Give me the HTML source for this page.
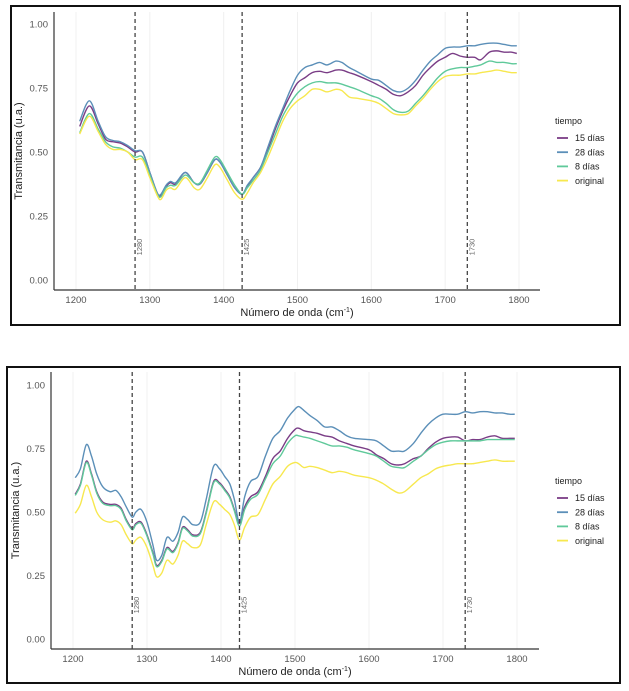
<!DOCTYPE html>
<html><head><meta charset="utf-8">
<style>
html,body{margin:0;padding:0;background:#fff;}
body{width:629px;height:691px;position:relative;overflow:hidden;font-family:"Liberation Sans",sans-serif;}
svg{position:absolute;left:0;top:0;}
</style></head>
<body>
<svg id="root" width="629" height="691" viewBox="0 0 629 691"></svg>
<script>
// ---- data: top chart ----
const seriesNames = ["15 días","28 días","8 días","original"];
const seriesColors = ["#7a3d86","#5b8fb8","#5fc99a","#f7e84f"];
const xTicks = [1200,1300,1400,1500,1600,1700,1800];
const yTicks = [0,0.25,0.5,0.75,1.0];
const yTickLabels = ["0.00","0.25","0.50","0.75","1.00"];
const markers = [1280,1425,1730];

const topX = [1205,1218,1230,1240,1250,1260,1270,1280,1290,1300,1310,1315,1322,1328,1335,1348,1360,1368,1378,1388,1395,1405,1415,1425,1432,1440,1450,1460,1470,1480,1490,1500,1510,1520,1530,1540,1552,1560,1570,1580,1600,1610,1620,1630,1640,1650,1660,1670,1680,1690,1700,1710,1720,1730,1740,1748,1760,1770,1780,1790,1797];
const top15 = [0.60,0.68,0.61,0.55,0.54,0.535,0.52,0.50,0.50,0.42,0.34,0.33,0.365,0.38,0.375,0.42,0.38,0.375,0.42,0.47,0.46,0.41,0.36,0.335,0.365,0.40,0.44,0.51,0.59,0.66,0.72,0.77,0.79,0.81,0.815,0.81,0.82,0.82,0.81,0.80,0.775,0.76,0.745,0.725,0.72,0.735,0.76,0.80,0.83,0.855,0.87,0.885,0.875,0.87,0.87,0.86,0.89,0.895,0.89,0.89,0.885];
const top28 = [0.62,0.70,0.62,0.56,0.545,0.54,0.525,0.505,0.50,0.42,0.34,0.335,0.37,0.385,0.38,0.42,0.38,0.375,0.42,0.47,0.46,0.41,0.36,0.335,0.37,0.40,0.44,0.52,0.60,0.67,0.74,0.80,0.83,0.84,0.85,0.84,0.855,0.85,0.83,0.815,0.785,0.78,0.76,0.74,0.735,0.75,0.78,0.82,0.855,0.88,0.905,0.91,0.91,0.915,0.915,0.92,0.925,0.925,0.92,0.915,0.915];
const top8 = [0.575,0.65,0.59,0.54,0.52,0.515,0.50,0.48,0.48,0.41,0.335,0.325,0.36,0.37,0.37,0.41,0.38,0.38,0.43,0.48,0.47,0.42,0.37,0.335,0.36,0.39,0.43,0.50,0.57,0.64,0.69,0.73,0.755,0.77,0.775,0.77,0.77,0.765,0.755,0.745,0.72,0.71,0.69,0.665,0.655,0.66,0.69,0.72,0.755,0.79,0.815,0.825,0.83,0.83,0.835,0.84,0.855,0.85,0.85,0.845,0.845];
const topOrig = [0.57,0.64,0.58,0.53,0.51,0.51,0.50,0.47,0.47,0.40,0.33,0.315,0.35,0.36,0.355,0.40,0.36,0.355,0.40,0.45,0.44,0.39,0.34,0.315,0.34,0.38,0.42,0.48,0.55,0.62,0.67,0.70,0.72,0.745,0.745,0.735,0.745,0.74,0.715,0.71,0.70,0.69,0.67,0.65,0.645,0.65,0.68,0.71,0.745,0.775,0.795,0.80,0.80,0.805,0.805,0.81,0.815,0.82,0.815,0.81,0.81];

// ---- data: bottom chart ----
const botX = [1203,1210,1218,1225,1232,1240,1250,1258,1265,1272,1280,1285,1292,1300,1308,1313,1320,1327,1335,1342,1348,1355,1362,1372,1380,1390,1398,1405,1412,1418,1425,1432,1440,1450,1460,1470,1480,1490,1500,1505,1512,1520,1530,1540,1550,1560,1570,1580,1600,1610,1620,1630,1640,1648,1660,1670,1680,1690,1700,1710,1720,1730,1740,1750,1760,1770,1780,1790,1797];
const bot28 = [0.635,0.67,0.765,0.72,0.65,0.60,0.58,0.585,0.56,0.52,0.48,0.50,0.51,0.46,0.37,0.31,0.33,0.40,0.385,0.42,0.48,0.47,0.45,0.46,0.55,0.68,0.67,0.64,0.61,0.55,0.46,0.56,0.62,0.64,0.72,0.79,0.82,0.87,0.905,0.915,0.90,0.88,0.86,0.835,0.835,0.82,0.80,0.79,0.785,0.78,0.76,0.74,0.74,0.74,0.77,0.81,0.845,0.87,0.885,0.885,0.885,0.895,0.89,0.895,0.895,0.89,0.89,0.885,0.885];
const bot15 = [0.57,0.61,0.70,0.65,0.58,0.54,0.53,0.53,0.515,0.47,0.435,0.455,0.46,0.41,0.34,0.29,0.31,0.36,0.345,0.38,0.44,0.43,0.41,0.42,0.50,0.62,0.615,0.59,0.56,0.51,0.455,0.52,0.56,0.58,0.64,0.71,0.74,0.79,0.825,0.83,0.82,0.815,0.81,0.80,0.795,0.78,0.77,0.76,0.745,0.725,0.71,0.69,0.685,0.69,0.71,0.72,0.75,0.775,0.79,0.795,0.795,0.78,0.785,0.785,0.795,0.80,0.79,0.79,0.79];
const bot8 = [0.565,0.605,0.695,0.645,0.575,0.535,0.525,0.525,0.51,0.465,0.43,0.45,0.455,0.405,0.335,0.285,0.305,0.355,0.34,0.375,0.435,0.425,0.405,0.415,0.495,0.615,0.61,0.585,0.555,0.505,0.445,0.51,0.55,0.57,0.63,0.69,0.72,0.77,0.80,0.80,0.795,0.79,0.78,0.77,0.76,0.76,0.755,0.745,0.73,0.72,0.70,0.68,0.675,0.675,0.70,0.72,0.745,0.765,0.775,0.78,0.78,0.78,0.78,0.78,0.785,0.785,0.785,0.785,0.785];
const botOrig = [0.495,0.53,0.605,0.56,0.50,0.47,0.46,0.465,0.45,0.41,0.375,0.39,0.40,0.36,0.29,0.245,0.26,0.31,0.295,0.33,0.385,0.375,0.36,0.37,0.45,0.54,0.53,0.51,0.49,0.45,0.39,0.44,0.48,0.49,0.55,0.61,0.64,0.68,0.695,0.69,0.675,0.68,0.675,0.665,0.655,0.66,0.655,0.645,0.635,0.625,0.61,0.59,0.575,0.58,0.61,0.635,0.65,0.67,0.68,0.685,0.69,0.69,0.69,0.695,0.70,0.705,0.70,0.70,0.70];

const NS="http://www.w3.org/2000/svg";
const root=document.getElementById('root');
function mk(tag,attrs,parent,text){
  const e=document.createElementNS(NS,tag);
  for(const k in attrs) e.setAttribute(k,attrs[k]);
  if(text!==undefined) e.textContent=text;
  (parent||root).appendChild(e);
  return e;
}
function smoothPath(pts){
  let d="M"+pts[0][0].toFixed(2)+","+pts[0][1].toFixed(2);
  for(let i=0;i<pts.length-1;i++){
    const p0=pts[Math.max(0,i-1)],p1=pts[i],p2=pts[i+1],p3=pts[Math.min(pts.length-1,i+2)];
    const c1x=p1[0]+(p2[0]-p0[0])/6,c1y=p1[1]+(p2[1]-p0[1])/6;
    const c2x=p2[0]-(p3[0]-p1[0])/6,c2y=p2[1]-(p3[1]-p1[1])/6;
    d+=" C"+c1x.toFixed(2)+","+c1y.toFixed(2)+" "+c2x.toFixed(2)+","+c2y.toFixed(2)+" "+p2[0].toFixed(2)+","+p2[1].toFixed(2);
  }
  return d;
}
function drawChart(cfg,name){
  const g=mk('g',{});
  
  
  const fr=mk('rect',{x:cfg.bx,y:cfg.by,width:cfg.bw,height:cfg.bh,fill:'none',stroke:'#111','stroke-width':2},g);
  
  
  const xS=v=>cfg.x0+(v-1200)*(cfg.x1-cfg.x0)/600;
  const yS=v=>cfg.y0-v*(cfg.y0-cfg.y1);
  // gridlines
  xTicks.forEach(t=>{
    const l=mk('line',{x1:xS(t),x2:xS(t),y1:cfg.top,y2:cfg.axY,stroke:'#f0f0f0','stroke-width':1},g);
    
    
  });
  // axes
  const ya=mk('line',{x1:cfg.axX,x2:cfg.axX,y1:cfg.top,y2:cfg.axY,stroke:'#333','stroke-width':1.2},g);
  
  
  const xa=mk('line',{x1:cfg.axX,x2:cfg.axR,y1:cfg.axY,y2:cfg.axY,stroke:'#333','stroke-width':1.2},g);
  
  
  xTicks.forEach(t=>{
    const tx=mk('text',{x:xS(t),y:cfg.axY+13,'font-size':9.5,fill:'#555','text-anchor':'middle'},g,String(t));
    
    
  });
  yTicks.forEach((t,i)=>{
    const tx=mk('text',{x:cfg.axX-6,y:yS(t)+3.5,'font-size':9.5,fill:'#555','text-anchor':'end'},g,yTickLabels[i]);
    
    
  });
  const xt=mk('text',{x:(cfg.axX+cfg.axR)/2,y:cfg.axY+26,'font-size':11,fill:'#222','text-anchor':'middle'},g);
  
  
  xt.appendChild(document.createTextNode('Número de onda (cm'));
  const sup=mk('tspan',{'font-size':7,dy:-4},xt,'-1');
  mk('tspan',{'font-size':11,dy:4},xt,')');
  const yc=(cfg.top+cfg.axY)/2;
  const yt=mk('text',{x:cfg.ytx,y:yc,'font-size':11,fill:'#222','text-anchor':'middle',transform:'rotate(-90 '+cfg.ytx+' '+yc+')'},g,'Transmitancia (u.a.)');
  
  
  // series
  cfg.series.forEach((s,i)=>{
    const pts=cfg.xs.map((x,j)=>[xS(x),yS(s[j])]);
    const p=mk('path',{d:smoothPath(pts),fill:'none',stroke:seriesColors[i],'stroke-width':1.4},g);
    
    
  });
  // markers
  markers.forEach(m=>{
    const l=mk('line',{x1:xS(m),x2:xS(m),y1:cfg.top,y2:cfg.axY,stroke:'#444','stroke-width':1.3,'stroke-dasharray':'4,3'},g);
    
    
    const lx=xS(m)+7, ly=cfg.mLabY;
    const t=mk('text',{x:lx,y:ly,'font-size':7.5,fill:'#666','text-anchor':'middle',transform:'rotate(-90 '+lx+' '+ly+')'},g,String(m));
    
    
  });
  // legend
  const lt=mk('text',{x:cfg.lgX,y:cfg.lgY,'font-size':9,fill:'#222'},g,'tiempo');
  
  
  seriesNames.forEach((n,i)=>{
    const yy=cfg.lgY+14+i*14.2;
    const l=mk('line',{x1:cfg.lgX+2,x2:cfg.lgX+13,y1:yy,y2:yy,stroke:seriesColors[i],'stroke-width':1.8},g);
    
    
    const t=mk('text',{x:cfg.lgX+20,y:yy+3.2,'font-size':9,fill:'#222'},g,n);
    
    
  });
}
drawChart({bx:11,by:6,bw:609,bh:319,x0:76,x1:519,y0:280,y1:24,top:12,axY:290,axX:54,axR:540,ytx:22,mLabY:247,lgX:555,lgY:124,
  xs:topX,series:[top15,top28,top8,topOrig]},'chart-top');
drawChart({bx:7,by:367,bw:613,bh:316,x0:73,x1:517,y0:639,y1:385,top:372,axY:649,axX:51,axR:539,ytx:19,mLabY:605,lgX:555,lgY:484,
  xs:botX,series:[bot15,bot28,bot8,botOrig]},'chart-bottom');
</script>
</body></html>
